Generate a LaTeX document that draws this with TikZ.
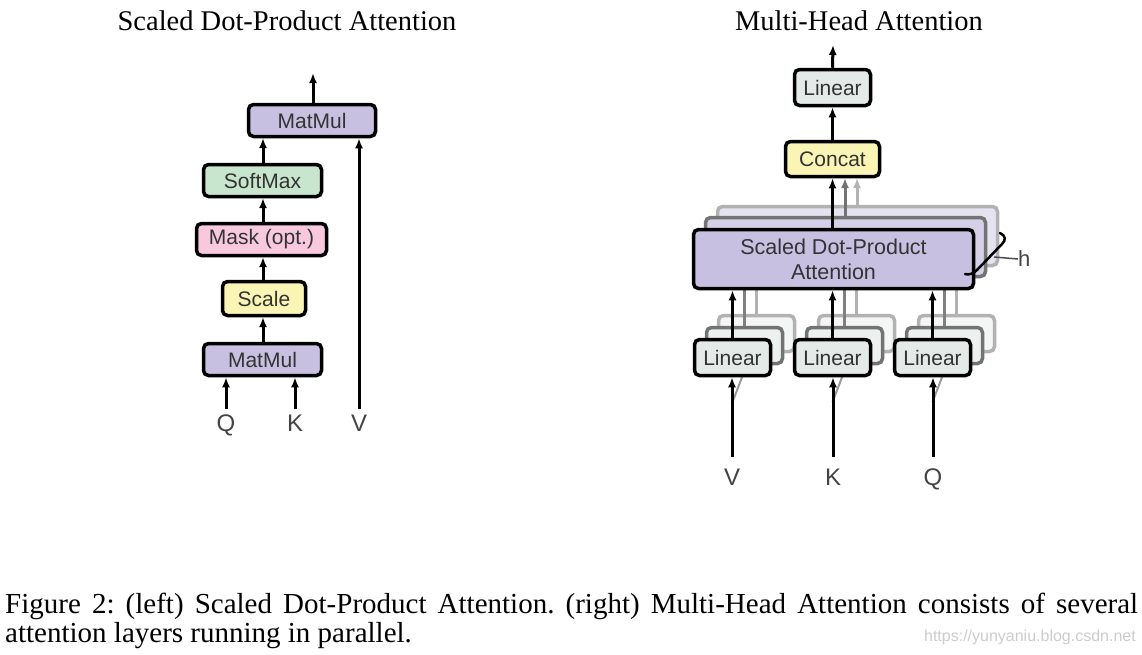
\documentclass[tikz,border=0pt]{standalone}
\usepackage{fontspec}
\setmainfont{Liberation Serif}
\newfontfamily\diagfont{Liberation Sans}
\usetikzlibrary{arrows.meta}
\definecolor{mmcol}{HTML}{C7C0E0}
\definecolor{smcol}{HTML}{C8E6CD}
\definecolor{mkcol}{HTML}{F8C8DC}
\definecolor{sccol}{HTML}{FBF5B5}
\definecolor{lncol}{HTML}{E4EAE7}
\definecolor{txtcol}{HTML}{333333}
\definecolor{lblcol}{HTML}{444444}
\tikzset{
  box/.style={draw=black, line width=3.5pt, rounded corners=5pt, inner sep=0pt,
    font=\diagfont\fontsize{21}{25}\selectfont, text=txtcol, align=center},
  lin/.style={box, fill=lncol, minimum width=76pt, minimum height=36pt},
  lincopyA/.style={lin, draw=black!55, fill=lncol!70},
  lincopyB/.style={lin, draw=black!30, fill=lncol!45},
  sdpacopyA/.style={box, fill=mmcol!75, draw=black!55, minimum width=280pt, minimum height=59pt},
  sdpacopyB/.style={box, fill=mmcol!45, draw=black!30, minimum width=280pt, minimum height=59pt},
  arr/.style={line width=3pt, -{Latex[length=10pt,width=8pt]}},
  lbl/.style={font=\diagfont\fontsize{24}{28}\selectfont, text=lblcol, anchor=base,
    text height=17pt, text depth=0pt, inner xsep=2pt, inner ysep=5pt},
  lblr/.style={lbl, inner ysep=11pt},
  ttl/.style={font=\fontsize{28.5}{32}\selectfont, anchor=base},
  captext/.style={font=\fontsize{29}{33}\selectfont, anchor=base west, inner sep=0pt}
}
\begin{document}
\frenchspacing
\begin{tikzpicture}[x=1pt, y=-1pt]
\useasboundingbox (0,0) rectangle (1142,654);
% titles
\node[ttl] (t1) at (287,30) {Scaled Dot-Product Attention};
\node[ttl] (t2) at (859,30) {Multi-Head Attention};
% ---------- left ----------
\node[box, fill=mmcol, minimum width=127pt, minimum height=32pt] (mm2) at (312,120.5) {MatMul};
\node[box, fill=smcol, minimum width=118pt, minimum height=32pt] (sm) at (262.5,180.5) {SoftMax};
\node[box, fill=mkcol, minimum width=130pt, minimum height=32pt] (mk) at (261.5,239.5) {Mask (opt.)};
\node[box, fill=sccol, minimum width=83pt, minimum height=34pt] (sc) at (264,298.5) {Scale};
\node[box, fill=mmcol, minimum width=118pt, minimum height=32pt] (mm1) at (262.5,359.5) {MatMul};
\node[lbl] (q1) at (226,431) {Q};
\node[lbl] (k1) at (295,431) {K};
\node[lbl] (v1) at (359,431) {V};
\coordinate (out1) at (313,73);
\draw[arr] (q1.north) -- (q1.north |- mm1.south);
\draw[arr] (k1.north) -- (k1.north |- mm1.south);
\draw[arr] (v1.north) -- (v1.north |- mm2.south);
\draw[arr] (263,342) -- (263,317);
\draw[arr] (263,280) -- (263,257);
\draw[arr] (263,222) -- (263,198);
\draw[arr] (263,163) -- (263,138);
\draw[arr] (out1 |- mm2.north) -- (out1);
% ---------- right ----------
\node[box, fill=lncol, minimum width=76pt, minimum height=36pt] (lt) at (832.5,87.5) {Linear};
\node[box, fill=sccol, minimum width=94pt, minimum height=35pt] (cc) at (832.5,159) {Concat};
\coordinate (out2) at (833,45);
% sdpa copies
\node[sdpacopyB] (sB) at (857.5,236) {};
\node[sdpacopyA] (sA) at (845.5,247) {};
% arrows to concat
\draw[arr, draw=black!30] (857,206) -- (857,178);
\draw[arr, draw=black!55] (845,217) -- (845,178);
% linear copies
\foreach \x/\n in {732.5/V,832.5/K,932.5/Q}{
  \node[lincopyB] (lB\n) at (\x+24,333.5) {};
  \node[lincopyA] (lA\n) at (\x+12,345.5) {};
  \draw[line width=2pt, draw=black!40] (\x,402) -- (\x+10,376);
  \draw[line width=2.5pt, draw=black!30] (lB\n.north) -- (lB\n.north |- 0,290);
  \draw[line width=2.5pt, draw=black!50] (lA\n.north) -- (lA\n.north |- 0,290);
}
\node[box, fill=mmcol, minimum width=280pt, minimum height=59pt, font=\diagfont\fontsize{21.5}{25}\selectfont] (sdpa) at (833.5,259) {Scaled Dot-Product\\Attention};
\node[lin] (lV) at (732.5,357.5) {Linear};
\node[lin] (lK) at (832.5,357.5) {Linear};
\node[lin] (lQ) at (932.5,357.5) {Linear};
\node[lblr] (v2) at (732,485) {V};
\node[lblr] (k2) at (833,485) {K};
\node[lblr] (q2) at (933,485) {Q};
\foreach \n in {V,K,Q}{
  \draw[arr] (l\n.north) -- (l\n.north |- sdpa.south);
}
\draw[arr] (v2.north) -- (v2.north |- lV.south);
\draw[arr] (k2.north) -- (k2.north |- lK.south);
\draw[arr] (q2.north) -- (q2.north |- lQ.south);
\draw[arr] (sdpa.north -| cc.south) -- (cc.south);
\draw[arr] (cc.north) -- (lt.south);
\draw[arr] (lt.north) -- (out2);
% brace and h
\draw[line width=2.5pt, line cap=round] (1000,233) .. controls (1006,236) and (1006,240) .. (1002,244) -- (977,270) .. controls (973,274) and (969,275) .. (965,274);
\node[font=\diagfont\fontsize{22}{26}\selectfont, text=lblcol, inner sep=0pt, anchor=west] (h) at (1018,259) {h};
\draw[line width=1.5pt, draw=black!70] (994,257) -- (h.west);
% caption
\node[captext] (c1) at (5,613) {\makebox[1133pt][s]{Figure 2: (left) Scaled Dot-Product Attention. (right) Multi-Head Attention consists of several}};
\node[captext] (c2) at (5,642) {attention layers running in parallel.};
\node[font=\diagfont\fontsize{16}{18}\selectfont, text=black!20, anchor=base east, inner sep=0pt] (wm) at (1136,641) {https://yunyaniu.blog.csdn.net};
\end{tikzpicture}
\end{document}
